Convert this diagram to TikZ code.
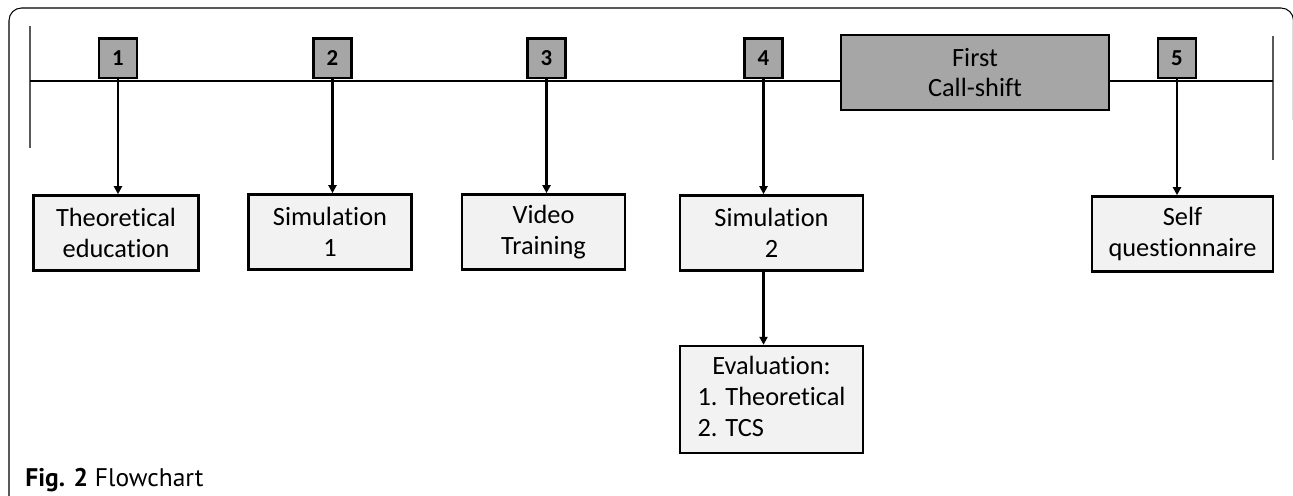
\documentclass[tikz,border=0pt]{standalone}
\usepackage{fontspec}
\setmainfont{Carlito}[Ligatures=NoCommon]
\newfontfamily\capfont{PT Sans}
\usetikzlibrary{positioning,arrows.meta}
\definecolor{stepgray}{RGB}{166,166,166}
\definecolor{boxgray}{RGB}{242,242,242}
\tikzstyle{line} = [draw,line width=1.2pt]
\tikzstyle{tick} = [draw,gray!70!black,line width=0.6pt]
\tikzstyle{stepnum} = [draw,line width=1.5pt,fill=stepgray,minimum width=0.76cm,minimum height=0.8cm,inner sep=0pt,font=\fontsize{13}{15}\selectfont\bfseries]
\tikzstyle{task} = [draw,line width=1.5pt,fill=boxgray,minimum height=1.5cm,align=center,inner sep=2pt,font=\fontsize{15}{17.6}\selectfont]
\tikzstyle{flow} = [draw,line width=1.3pt,-{Triangle[length=1.6mm,width=1.6mm]}]

\begin{document}
\begin{tikzpicture}[x=0.02cm,y=-0.02cm]
                \useasboundingbox (0,0) rectangle (1293,496);
                \draw[line width=0.6pt,rounded corners=0.25cm] (9,500) -- (9,8) -- (1293.5,8) -- (1293.5,120);
                % time line
                \coordinate (tstart) at (30,81);
                \coordinate (tend) at (1273,81);
                \path [tick] (30,26) -- (30,148);
                \path [tick] (1273,36) -- (1273,160);
                \path [line] (tstart) -- (tend);
                \node[stepnum,anchor=south] (step1) at (118,79.5) {1};
                \node[stepnum,anchor=south] (step2) at (332.5,79.5) {2};
                \node[stepnum,anchor=south] (step3) at (546.5,79.5) {3};
                \node[stepnum,anchor=south] (step4) at (763.5,79.5) {4};
                \node[stepnum,anchor=south] (step5) at (1177,79.5) {5};
                \node[task,fill=stepgray,minimum width=5.36cm] (shift) at (975,72.5) {First\\Call-shift};
                \node[task,minimum width=3.3cm] (task1) at (116,233) {Theoretical\\education};
                \node[task,minimum width=3.25cm] (task2) at (330,232) {Simulation\\1};
                \node[task,minimum width=3.26cm] (task3) at (543.5,232) {Video\\Training};
                \node[task,minimum width=3.66cm] (task4) at (771.5,233) {Simulation\\2};
                \node[task,minimum width=3.62cm] (task5) at (1182.5,234) {Self\\questionnaire};
                \node[task,minimum width=3.66cm,minimum height=2.14cm,below=1.46cm of task4] (eval) {\begin{tabular}{@{}l@{}}\multicolumn{1}{@{}c@{}}{Evaluation:}\\1. Theoretical\\2. TCS\end{tabular}};
                \path [flow] (step1) -- (step1 |- task1.north);
                \path [flow] (step2) -- (step2 |- task2.north);
                \path [flow] (step3) -- (step3 |- task3.north);
                \path [flow] (step4) -- (step4 |- task4.north);
                \path [flow] (step4 |- task4.south) -- (step4 |- eval.north);
                \path [flow] (step5) -- (step5 |- task5.north);
                \node[anchor=base west,inner sep=0pt,font=\capfont\fontsize{14.5}{17}\selectfont] (caption) at (25,486) {\textbf{Fig. 2} Flowchart};
                % \node[below=of task5] {};
\end{tikzpicture}
\end{document}
